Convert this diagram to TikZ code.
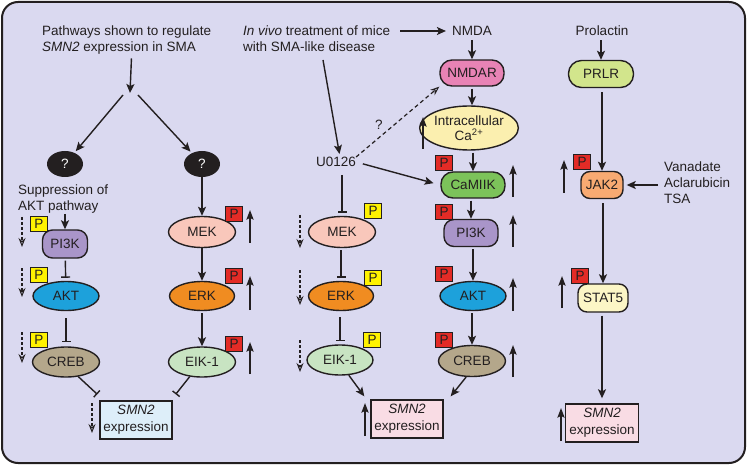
\documentclass[tikz,border=0pt]{standalone}
\usepackage{fontspec}
\setmainfont{Liberation Sans}
\usetikzlibrary{shapes.geometric,arrows.meta,calc}
\definecolor{ink}{HTML}{231F20}
\definecolor{bg}{HTML}{DAD9F0}
\definecolor{cpi}{HTML}{A995C9}
\definecolor{cakt}{HTML}{1DA1DB}
\definecolor{ccreb}{HTML}{B4A78B}
\definecolor{cmek}{HTML}{F9C7BB}
\definecolor{cerk}{HTML}{F08C21}
\definecolor{celk}{HTML}{C8E4C2}
\definecolor{csmnb}{HTML}{DDEEF9}
\definecolor{csmnp}{HTML}{F9DCE4}
\definecolor{cnmdar}{HTML}{E883B5}
\definecolor{cca}{HTML}{FBEFAF}
\definecolor{ccam}{HTML}{7CC35A}
\definecolor{cprlr}{HTML}{D2E58C}
\definecolor{cjak}{HTML}{F8AA72}
\definecolor{cstat}{HTML}{FCF6C6}
\definecolor{pred}{HTML}{E32B26}
\definecolor{pyel}{HTML}{FFF200}
\newcommand\UpArr[4]{\coordinate (#1s) at (#2,#3); \coordinate (#1e) at (#2,#4); \draw[uparr] (#1s) -- (#1e);}
\newcommand\DnArr[4]{\coordinate (#1s) at (#2,#3); \coordinate (#1e) at (#2,#4); \draw[dnarr] (#1s) -- (#1e);}
\begin{document}
\begin{tikzpicture}[x=1pt,y=-1pt,
  font=\fontsize{13.5}{16}\selectfont,
  txt/.style={text=ink, inner sep=0pt},
  ell/.style={ellipse, draw=ink, line width=1.4pt, inner sep=0pt, text=ink, minimum width=#1},
  ell/.default=66pt,
  rbox/.style={rectangle, draw=ink, line width=1.4pt, inner sep=0pt, text=ink, rounded corners=#1},
  sbox/.style={rectangle, draw=ink, line width=1.4pt, inner sep=0pt, text=ink, align=center, minimum width=72pt, minimum height=38pt},
  pbox/.style={rectangle, draw=ink, line width=1pt, inner sep=0pt, minimum width=17pt, minimum height=15pt, text=ink},
  py/.style={pbox, fill=pyel},
  pr/.style={pbox, fill=pred},
  arr/.style={draw=ink, line width=1.4pt, -{Stealth[length=9pt,width=8pt,inset=2pt]}},
  uparr/.style={draw=ink, line width=1.9pt, -{Stealth[length=9.5pt,width=7pt,inset=1.5pt]}},
  dnarr/.style={draw=ink, line width=1.2pt, dash pattern=on 3pt off 2pt, -{Stealth[open,length=9pt,width=7pt,inset=3pt,line width=1pt]}},
  inh/.style={draw=ink, line width=1.4pt, -{Bar[width=9pt,line width=1.4pt]}},
]
\useasboundingbox (0,0) rectangle (747,465);
\draw[fill=bg, draw=ink, line width=2pt, rounded corners=16pt] (2,2) rectangle (745,463);

% ---------- left panel ----------
\node[txt, align=left, anchor=north west] (path) at (42,25.5) {Pathways shown to regulate\\\textit{SMN2} expression in SMA};
\coordinate (split) at (130,93);
\draw[arr, shorten <=4pt] ([xshift=5pt]path.south) -- (split);
\node[ellipse, fill=ink, minimum width=36pt, minimum height=26pt, inner sep=0pt, text=white] (q1) at (65,164) {?};
\node[ellipse, fill=ink, minimum width=36pt, minimum height=26pt, inner sep=0pt, text=white] (q2) at (202,164) {?};
\draw[arr, shorten >=2pt] ($(split)+(-7,2)$) -- (q1);
\draw[arr, shorten >=2pt] ($(split)+(8,2)$) -- (q2);

\node[txt, align=left, anchor=north west] (supp) at (18,185) {Suppression of\\AKT pathway};
\node[rbox=10pt, fill=cpi, minimum width=45pt, minimum height=28pt] (pi3k1) at (65,244) {PI3K};
\node[ell=66pt, fill=cakt, minimum height=29pt] (akt1) at (66,296) {AKT};
\node[ell=67pt, fill=ccreb, minimum height=30pt] (creb1) at (66,362) {CREB};
\node[sbox, fill=csmnb] (smn1) at (136,420) {\textit{SMN2}\\[1pt]expression};
\draw[arr] (supp.south -| pi3k1) -- (pi3k1);
\draw[inh, shorten >=3pt, shorten <=2pt] (pi3k1) -- (akt1);
\draw[inh, shorten >=4pt, shorten <=7pt] (akt1) -- (creb1);
\draw[inh] (creb1.-50) -- ($(smn1.north west)+(-2,-6)$);

\node[py] (py1) at (39,224) {P};
\node[py] (py2) at (39,275) {P};
\node[py] (py3) at (39,340) {P};
\DnArr{d1}{22}{217}{247}
\DnArr{d2}{22}{268}{297}
\DnArr{d3}{22}{332}{363}
\DnArr{d4}{92}{403}{433}

\node[ell=67pt, fill=cmek, minimum height=31pt] (mek1) at (202,232) {MEK};
\node[ell=65pt, fill=cerk, minimum height=29pt] (erk1) at (202,296) {ERK};
\node[ell=67pt, fill=celk, minimum height=30pt] (elk1) at (202,362) {EIK-1};
\draw[arr] (q2) -- (mek1);
\draw[arr] (mek1) -- (erk1);
\draw[arr, shorten <=2pt] (erk1) -- (elk1);
\draw[inh] (elk1.-130) -- ($(smn1.north east)+(3,-6)$);
\node[pr] (pr1) at (234,214) {P};
\node[pr] (pr2) at (234,276) {P};
\node[pr] (pr3) at (234,344) {P};
\UpArr{u1}{250}{243}{210}
\UpArr{u2}{250}{310}{276}
\UpArr{u3}{250}{374}{342}

% ---------- middle panel ----------
\node[txt, align=left, anchor=north west] (invivo) at (243,25.5) {\textit{In vivo} treatment of mice\\with SMA-like disease};
\node[txt] (nmda) at (472,31) {NMDA};
\coordinate (ivr) at (400,31);
\draw[arr, shorten >=6pt] (ivr) -- (nmda);
\node[txt] (u0126) at (336,162) {U0126};
\coordinate (ivs) at (323,60);
\draw[arr, shorten >=3pt] (ivs) -- ([xshift=4pt]u0126.north);

\node[rbox=12pt, fill=cnmdar, minimum width=64pt, minimum height=26pt] (nmdar) at (472,73) {NMDAR};
\node[ellipse, draw=ink, line width=1.4pt, inner sep=0pt, fill=cca, text=ink, minimum width=80pt, minimum height=44pt, align=center] (ca) at (469,128) {Intracellular\\[-1pt]Ca\textsuperscript{2+}};
\node[rbox=12pt, fill=ccam, minimum width=64pt, minimum height=26pt] (camk) at (473,185) {CaMIIK};
\node[rbox=10pt, fill=cpi, minimum width=54pt, minimum height=27pt] (pi3k2) at (471,233) {PI3K};
\node[ell=66pt, fill=cakt, minimum height=29pt] (akt2) at (473,296) {AKT};
\node[ell=67pt, fill=ccreb, minimum height=31pt] (creb2) at (472,361) {CREB};
\node[sbox, fill=csmnp] (smn2) at (407,419) {\textit{SMN2}\\[1pt]expression};

\draw[arr, shorten <=4pt] (nmda.south -| nmdar) -- (nmdar);
\draw[arr, shorten <=2pt] (nmdar) -- (ca.north -| nmdar);
\draw[arr, shorten <=2pt] (ca.south -| camk) -- (camk);
\draw[arr, shorten <=2pt] (camk.south -| pi3k2) -- (pi3k2);
\draw[arr, shorten <=2pt] (pi3k2.south -| akt2) -- (akt2);
\draw[arr, shorten <=2pt] (akt2.south -| creb2) -- (creb2);
\draw[arr] (creb2.-110) -- ($(smn2.north east)+(7,-3)$);

\draw[dnarr, dash pattern=on 4pt off 3pt] (u0126.north east) -- node[txt, pos=0.35, above left=2pt] (qm) {?} (nmdar.south west);
\draw[arr, shorten <=7pt, shorten >=7pt] (u0126.east) -- (camk.west);

\node[ell=67pt, fill=cmek, minimum height=31pt] (mek2) at (342,232) {MEK};
\node[ell=65pt, fill=cerk, minimum height=29pt] (erk2) at (341,296) {ERK};
\node[ell=66pt, fill=celk, minimum height=30pt] (elk2) at (340,360) {EIK-1};
\draw[inh, shorten <=8pt, shorten >=3pt] (u0126.south -| mek2) -- (mek2);
\draw[inh, shorten <=2pt, shorten >=3pt] (mek2.south -| erk2) -- (erk2);
\draw[inh, shorten <=6pt, shorten >=3pt] (erk2.south -| elk2) -- (elk2);
\draw[arr] (elk2.-60) -- ($(smn2.north west)+(-6,-3)$);

\node[py] (py4) at (373,211) {P};
\node[py] (py5) at (373,278) {P};
\node[py] (py6) at (372,340) {P};
\DnArr{d5}{300}{215}{248}
\DnArr{d6}{300}{270}{305}
\DnArr{d7}{300}{340}{372}
\UpArr{u4}{365}{436}{403}

\node[pr] (pr4) at (444,163) {P};
\node[pr] (pr5) at (444,212) {P};
\node[pr] (pr6) at (444,274) {P};
\node[pr] (pr7) at (444,340) {P};
\UpArr{u5}{423}{149}{117}
\UpArr{u6}{513}{197}{165}
\UpArr{u7}{513}{247}{215}
\UpArr{u8}{513}{311}{278}
\UpArr{u9}{513}{377}{345}

% ---------- right panel ----------
\node[txt] (prol) at (602,31) {Prolactin};
\node[rbox=13pt, fill=cprlr, minimum width=65pt, minimum height=27pt] (prlr) at (601,74) {PRLR};
\node[rbox=9pt, fill=cjak, minimum width=42pt, minimum height=27pt] (jak2) at (602,185) {JAK2};
\node[rbox=9pt, fill=cstat, minimum width=50pt, minimum height=28pt] (stat5) at (603,298) {STAT5};
\node[sbox, fill=csmnp, minimum width=73pt] (smn3) at (602,423) {\textit{SMN2}\\[1pt]expression};
\node[txt, align=left, anchor=north west] (vana) at (664,162) {Vanadate\\Aclarubicin\\TSA};

\draw[arr, shorten <=4pt] (prol.south -| prlr) -- (prlr);
\draw[arr, shorten <=4pt] (prlr.south -| jak2) -- (jak2);
\draw[arr, shorten <=4pt] (jak2.south -| stat5) -- (stat5);
\draw[arr, shorten <=3pt, shorten >=5pt] (stat5.south -| smn3) -- (smn3);
\draw[arr, shorten <=6pt, shorten >=3pt] (vana.west |- jak2) -- (jak2);

\node[pr] (pr8) at (582,162) {P};
\node[pr] (pr9) at (580,276) {P};
\UpArr{u10}{564}{193}{160}
\UpArr{u11}{562}{308}{276}
\UpArr{u12}{561}{441}{408}
\end{tikzpicture}
\end{document}
